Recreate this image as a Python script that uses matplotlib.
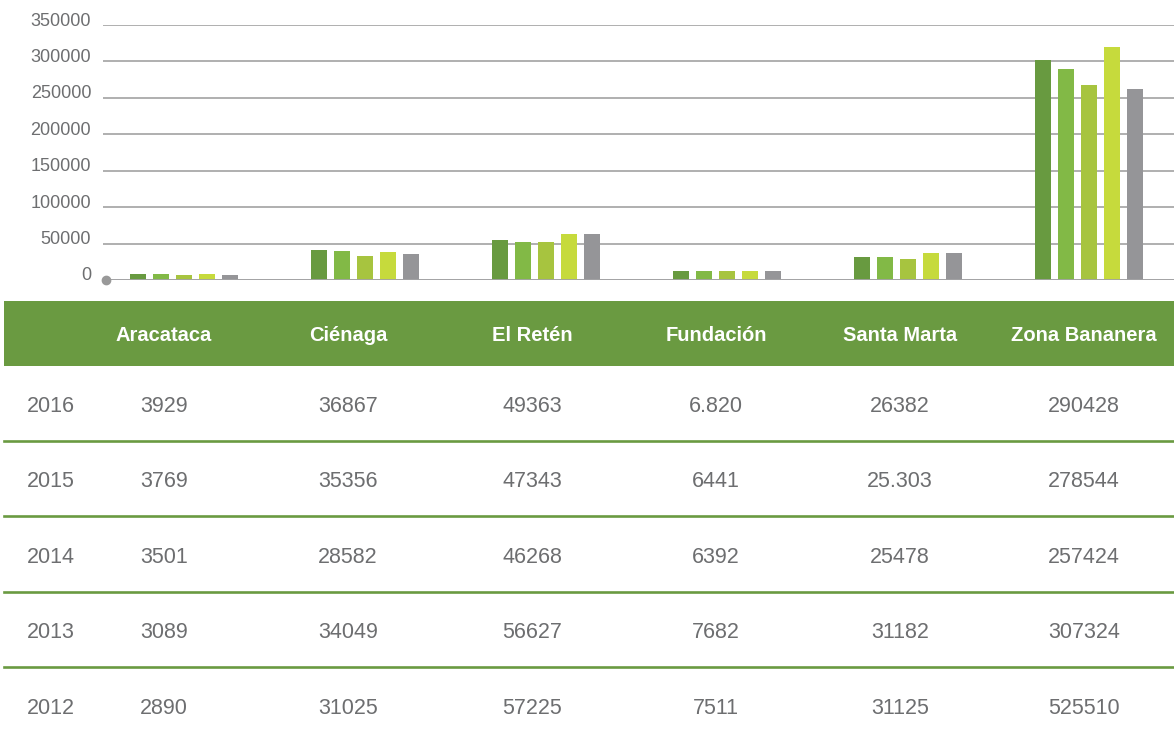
import matplotlib
matplotlib.use('Agg')
import matplotlib.pyplot as plt
from matplotlib.patches import Rectangle
from matplotlib.transforms import ScaledTranslation

# datos
municipios = ['Aracataca', 'Ciénaga', 'El Retén', 'Fundación', 'Santa Marta', 'Zona Bananera']
serie_1 = [8200, 41200, 54900, 12300, 31600, 302000]
serie_2 = [8200, 39900, 52200, 12300, 31600, 289600]
serie_3 = [6900, 33000, 52200, 12300, 28800, 267600]
serie_4 = [8200, 38500, 63100, 12300, 37000, 319800]
serie_5 = [6900, 35700, 63100, 12300, 37000, 262200]
series = [serie_1, serie_2, serie_3, serie_4, serie_5]
colores = ['#689a40', '#82b946', '#a7c43f', '#c6da3c', '#959598']

anios = ['2016', '2015', '2014', '2013', '2012']
tabla = [
    ['3929', '36867', '49363', '6.820', '26382', '290428'],
    ['3769', '35356', '47343', '6441', '25.303', '278544'],
    ['3501', '28582', '46268', '6392', '25478', '257424'],
    ['3089', '34049', '56627', '7682', '31182', '307324'],
    ['2890', '31025', '57225', '7511', '31125', '525510'],
]
yticks = [0, 50000, 100000, 150000, 200000, 250000, 300000, 350000]

verde = '#6a9a41'
gris_txt = '#6d6e70'

plt.rcParams['font.family'] = ['Liberation Sans', 'DejaVu Sans']

W, H = 1174, 741
fig = plt.figure(figsize=(W / 100, H / 100), dpi=100)

# ---- grafico de barras ----
ax = fig.add_axes([103 / W, 1 - 280 / H, 1 - 103 / W, 255 / H])
ax.set_xlim(-0.4475, 5.47)
ax.set_ylim(0, 350000)

paso = 23 / 181
ancho = 16 / 181
for j, (s, c) in enumerate(zip(series, colores)):
    xs = [i + (j - 2) * paso for i in range(len(municipios))]
    ax.bar(xs, s, width=ancho, color=c, zorder=3)

ax.set_yticks(yticks)
ax.set_yticklabels([str(v) for v in yticks])
ax.yaxis.grid(True, color='#a9a9a9', lw=1.3)
ax.set_axisbelow(True)
ax.axhline(0, color='#a3a3a5', lw=2.0, zorder=4)
ax.plot([-0.4475 + 3 / 181], [0], 'o', ms=6, color='#999999', clip_on=False, zorder=5)
ax.set_xticks([])
for sp in ax.spines.values():
    sp.set_visible(False)
ax.tick_params(axis='y', length=0, pad=8.5, labelsize=13, labelcolor=gris_txt)
off = ScaledTranslation(0, 6 / 100, fig.dpi_scale_trans)
for lab in ax.get_yticklabels():
    lab.set_transform(lab.get_transform() + off)

# ---- tabla ----
at = fig.add_axes([0, 0, 1, 1], zorder=-1)
at.set_xlim(0, W)
at.set_ylim(H, 0)
at.axis('off')

at.add_patch(Rectangle((4, 301), W - 4, 65, color=verde, lw=0))
for j, m in enumerate(municipios):
    at.text(164 + 184 * j, 341, m, ha='center', va='baseline', color='white',
            fontsize=14.5, fontweight='bold')

for k, (a, fila) in enumerate(zip(anios, tabla)):
    yb = 411.5 + 75.6 * k
    at.text(50.5, yb, a, ha='center', va='baseline', color=gris_txt, fontsize=15.5)
    for j, v in enumerate(fila):
        at.text(164 + 184 * j, yb, v, ha='center', va='baseline', color=gris_txt, fontsize=15.5)
    if k < len(anios) - 1:
        at.plot([4, W], [440.5 + 75.6 * k] * 2, color=verde, lw=1.9)

fig.savefig('out.png', dpi=100)
